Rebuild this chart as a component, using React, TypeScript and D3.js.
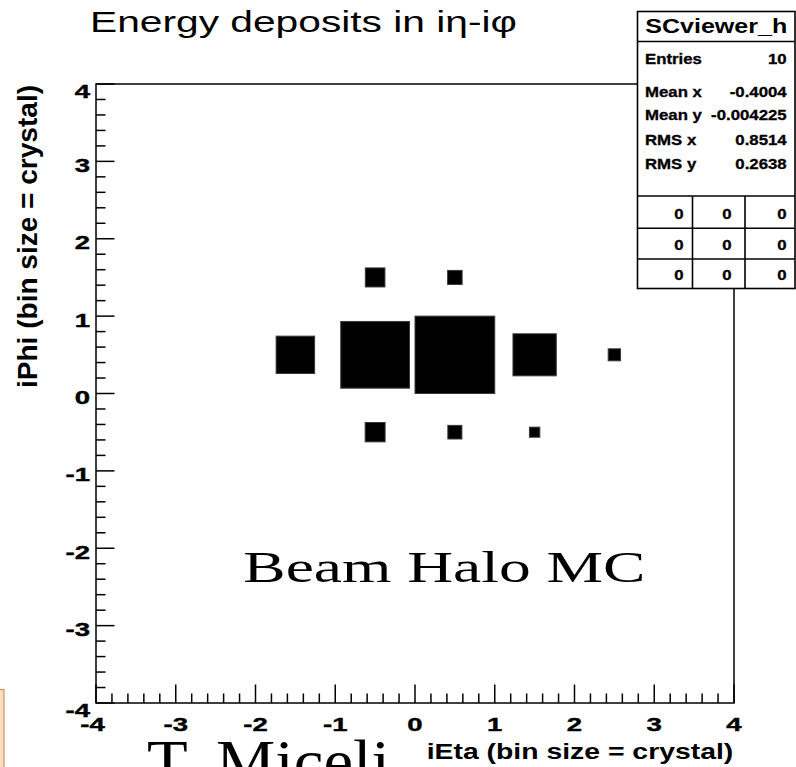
import React from "react";
import * as d3 from "d3";

// Axis tick values (crystal index units)
const xTickValues = [-4, -3, -2, -1, 0, 1, 2, 3, 4];
const yTickValues = [-4, -3, -2, -1, 0, 1, 2, 3, 4];

// Crystal cells with deposited energy: iEta bin centre, iPhi bin centre, energy
const cellEta = [0.5, -0.5, 1.5, -1.5, -0.5, -0.5, 0.5, 0.5, 2.5, 1.5];
const cellPhi = [0.5, 0.5, 0.5, 0.5, 1.5, -0.5, 1.5, -0.5, 0.5, -0.5];
const cellEnergy = [100, 74.3, 29.5, 23.3, 6.05, 6.25, 3.3, 3.1, 2.4, 1.7];

// Statistics box
const statTitle = "SCviewer_h";
const statLabels = ["Entries", "Mean x", "Mean y", "RMS x", "RMS y"];
const statValues = ["10", "-0.4004", "-0.004225", "0.8514", "0.2638"];
const overflowGrid = [
  ["0", "0", "0"],
  ["0", "0", "0"],
  ["0", "0", "0"],
];

const SANS = "'Liberation Sans', Arial, Helvetica, sans-serif";
const SERIF = "'Liberation Serif', 'Times New Roman', serif";

type STextProps = {
  x: number;
  y: number;
  sx?: number;
  size: number;
  weight?: string | number;
  family?: string;
  anchor?: "start" | "middle" | "end";
  heavy?: number;
  children: React.ReactNode;
};

// Text with horizontal stretch applied around its anchor point
function SText({ x, y, sx = 1, size, weight = "normal", family = SANS, anchor = "start", heavy = 0, children }: STextProps) {
  return (
    <text
      transform={`translate(${x},${y}) scale(${sx},1)`}
      fontSize={size}
      fontWeight={weight}
      fontFamily={family}
      textAnchor={anchor}
      fill="#000"
      stroke={heavy > 0 ? "#000" : "none"}
      strokeWidth={heavy}
    >
      {children}
    </text>
  );
}

export default function App() {
  const W = 796;
  const H = 767;
  const frame = { left: 96, right: 734, top: 84, bottom: 703 };

  const x = d3.scaleLinear().domain([-4, 4]).range([frame.left, frame.right]);
  const y = d3.scaleLinear().domain([-4, 4]).range([frame.bottom, frame.top]);
  const side = d3
    .scaleSqrt()
    .domain([0, d3.max(cellEnergy) as number])
    .range([0, 1]);

  const binW = x(1) - x(0);
  const binH = y(0) - y(1);

  const xMinor = x.ticks(40).filter((t) => Math.abs(t - Math.round(t)) > 1e-6);
  const yMinor = y.ticks(40).filter((t) => Math.abs(t - Math.round(t)) > 1e-6);

  const majorLen = 18.5;
  const minorLen = 9.5;

  // statistics box geometry
  const sb = { left: 637.5, right: 795, top: 11.5, titleLine: 41.5, statsLine: 196, bottom: 288.5 };
  const statBaselines = [63.5, 96.5, 120, 145, 168.5];
  const gridRowLines = [228.3, 259];
  const gridColLines = [692.5, 745];
  const gridBaselines = [218.5, 250, 279.5];
  const gridRight = [683.5, 731.5, 786.5];

  return (
    <svg
      width={W}
      height={H}
      viewBox={`0 0 ${W} ${H}`}
      style={{ position: "absolute", left: 0, top: 0, background: "#fff" }}
    >
      <rect x={0} y={0} width={W} height={H} fill="#fff" />

      {/* side panel edge */}
      <rect x={-10} y={689.5} width={14} height={100} fill="#fcdcbc" stroke="#c8976a" strokeWidth={1.2} />

      {/* title */}
      <text x={90} y={32} fontSize={29} fontFamily={SANS} textLength={427} lengthAdjust="spacingAndGlyphs">
        Energy deposits in iη-iφ
      </text>

      {/* boxes */}
      <g>
        {cellEnergy.map((e, i) => {
          const f = side(e);
          const w = f * binW;
          const h = f * binH;
          return (
            <rect
              key={i}
              x={x(cellEta[i]) - w / 2}
              y={y(cellPhi[i]) - h / 2}
              width={w}
              height={h}
              fill="#000"
              stroke="#3a3a3a"
              strokeWidth={1}
            />
          );
        })}
      </g>

      {/* frame */}
      <rect
        x={frame.left}
        y={frame.top}
        width={frame.right - frame.left}
        height={frame.bottom - frame.top}
        fill="none"
        stroke="#000"
        strokeWidth={1.5}
      />

      {/* axis ticks */}
      <g stroke="#000" strokeWidth={1.5}>
        {xTickValues.map((t) => (
          <line key={"xM" + t} x1={x(t)} x2={x(t)} y1={frame.bottom} y2={frame.bottom - majorLen} />
        ))}
        {xMinor.map((t) => (
          <line key={"xm" + t} x1={x(t)} x2={x(t)} y1={frame.bottom} y2={frame.bottom - minorLen} />
        ))}
        {yTickValues.map((t) => (
          <line key={"yM" + t} x1={frame.left} x2={frame.left + majorLen} y1={y(t)} y2={y(t)} />
        ))}
        {yMinor.map((t) => (
          <line key={"ym" + t} x1={frame.left} x2={frame.left + minorLen} y1={y(t)} y2={y(t)} />
        ))}
      </g>

      {/* x tick labels */}
      {xTickValues.map((t) => (
        <SText
          key={"xl" + t}
          x={t === -4 ? x(t) - 3.5 : x(t)}
          y={730.5}
          sx={1.45}
          size={19}
          weight="bold"
          anchor="middle"
          heavy={0.4}
        >
          {String(t)}
        </SText>
      ))}

      {/* y tick labels */}
      {yTickValues.map((t) => {
        const extra = t === 4 || t === -4 ? 3.5 : 0;
        return (
          <SText
            key={"yl" + t}
            x={90}
            y={y(t) + 10.5 + extra}
            sx={1.45}
            size={19}
            weight="bold"
            anchor="end"
            heavy={0.4}
          >
            {String(t)}
          </SText>
        );
      })}

      {/* axis titles */}
      <text
        transform={`translate(36.5, 85) rotate(-90)`}
        fontSize={28}
        fontWeight="bold"
        fontFamily={SANS}
        textAnchor="end"
        textLength={303}
        lengthAdjust="spacingAndGlyphs"
      >
        iPhi (bin size = crystal)
      </text>
      <text
        x={733.3}
        y={759.3}
        fontSize={22}
        fontWeight="bold"
        fontFamily={SANS}
        textAnchor="end"
        textLength={306.6}
        lengthAdjust="spacingAndGlyphs"
      >
        iEta (bin size = crystal)
      </text>

      {/* statistics box */}
      <g>
        <rect
          x={sb.left}
          y={sb.top}
          width={sb.right - sb.left}
          height={sb.bottom - sb.top}
          fill="#fff"
          stroke="#000"
          strokeWidth={1.6}
        />
        <line x1={sb.left} x2={sb.right} y1={sb.titleLine} y2={sb.titleLine} stroke="#000" strokeWidth={1.6} />
        <line x1={sb.left} x2={sb.right} y1={sb.statsLine} y2={sb.statsLine} stroke="#000" strokeWidth={1.6} />
        {gridRowLines.map((ly) => (
          <line key={"gr" + ly} x1={sb.left} x2={sb.right} y1={ly} y2={ly} stroke="#000" strokeWidth={1.6} />
        ))}
        {gridColLines.map((lx) => (
          <line key={"gc" + lx} x1={lx} x2={lx} y1={sb.statsLine} y2={sb.bottom} stroke="#000" strokeWidth={1.6} />
        ))}
        <text
          x={(sb.left + sb.right) / 2}
          y={33.3}
          fontSize={21}
          fontWeight="bold"
          fontFamily={SANS}
          textAnchor="middle"
          textLength={142}
          lengthAdjust="spacingAndGlyphs"
        >
          {statTitle}
        </text>
        {statLabels.map((l, i) => (
          <SText key={"sl" + l} x={645} y={statBaselines[i]} sx={1.2} size={14} weight="bold" heavy={0.3}>
            {l}
          </SText>
        ))}
        {statValues.map((v, i) => (
          <SText key={"sv" + i} x={786.7} y={statBaselines[i]} sx={1.2} size={14} weight="bold" anchor="end" heavy={0.3}>
            {v}
          </SText>
        ))}
        {overflowGrid.map((row, r) =>
          row.map((v, c) => (
            <SText
              key={"g" + r + c}
              x={gridRight[c]}
              y={gridBaselines[r]}
              sx={1.2}
              size={14}
              weight="bold"
              anchor="end"
              heavy={0.3}
            >
              {v}
            </SText>
          ))
        )}
      </g>

      {/* annotations */}
      <text
        x={243.3}
        y={581.7}
        fontSize={45}
        fontFamily={SERIF}
        textLength={402}
        lengthAdjust="spacingAndGlyphs"
      >
        Beam Halo MC
      </text>
      <text
        x={147}
        y={782}
        fontSize={62}
        fontFamily={SERIF}
        textLength={243}
        lengthAdjust="spacingAndGlyphs"
      >
        T. Miceli
      </text>
    </svg>
  );
}
